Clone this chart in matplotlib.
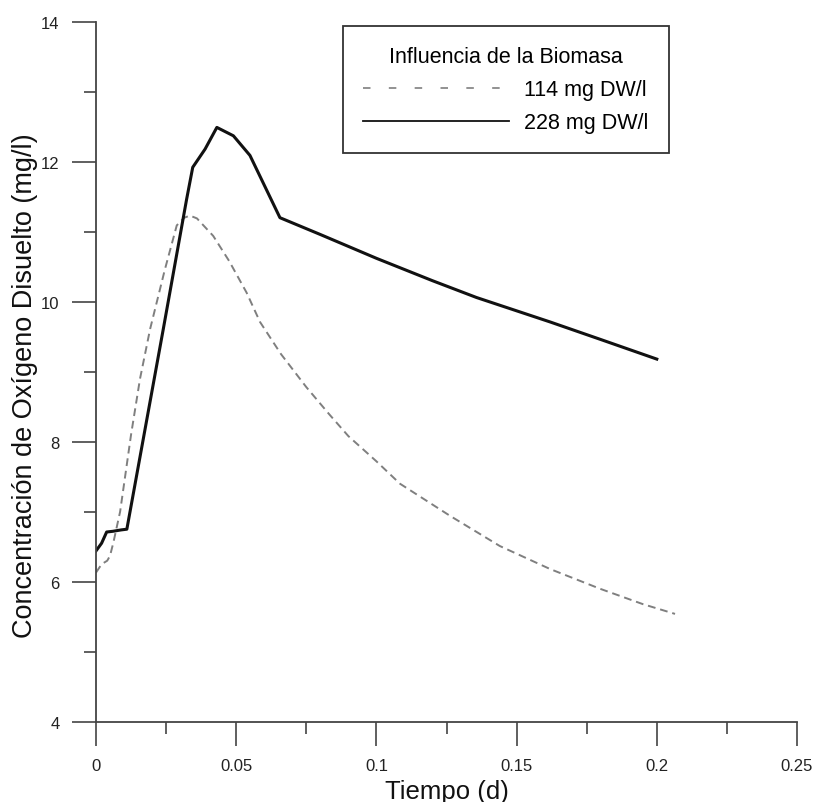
import matplotlib
matplotlib.use("Agg")
import matplotlib.pyplot as plt
from matplotlib.lines import Line2D
from matplotlib.ticker import FixedLocator

plt.rcParams['font.family'] = ['Liberation Sans', 'DejaVu Sans']

# Series
t_114 = [0.0, 0.002, 0.004, 0.005, 0.0062, 0.0086, 0.0125, 0.0157, 0.0193, 0.0245, 0.0288,
         0.0315, 0.0335, 0.036, 0.0418, 0.0475, 0.0537, 0.0585, 0.066, 0.075, 0.083, 0.09,
         0.1, 0.1084, 0.1263, 0.144, 0.162, 0.1797, 0.195, 0.2065]
v_114 = [6.13, 6.25, 6.30, 6.37, 6.56, 7.0, 8.1, 8.9, 9.61, 10.45, 11.09,
         11.2, 11.23, 11.19, 10.94, 10.58, 10.13, 9.71, 9.25, 8.78, 8.40, 8.08,
         7.72, 7.40, 6.94, 6.51, 6.18, 5.90, 5.68, 5.54]

t_228 = [0.0, 0.002, 0.0038, 0.006, 0.009, 0.011, 0.024, 0.0323, 0.0345, 0.0389, 0.0431,
         0.049, 0.0549, 0.0656, 0.0668, 0.08, 0.1, 0.12, 0.1357, 0.162, 0.18, 0.2]
v_228 = [6.44, 6.55, 6.71, 6.72, 6.74, 6.75, 9.61, 11.46, 11.92, 12.18, 12.49,
         12.37, 12.09, 11.2, 11.18, 10.96, 10.62, 10.30, 10.06, 9.71, 9.46, 9.18]

series_labels = ["114 mg DW/l", "228 mg DW/l"]
legend_title = "Influencia de la Biomasa"
x_major = [0, 0.05, 0.1, 0.15, 0.2, 0.25]
x_labels = ["0", "0.05", "0.1", "0.15", "0.2", "0.25"]
y_major = [4, 6, 8, 10, 12, 14]
y_labels = ["4", "6", "8", "10", "12", "14"]
x_minor = [0.025, 0.075, 0.125, 0.175, 0.225]
y_minor = [5, 7, 9, 11, 13]

fig = plt.figure(figsize=(8.14, 8.03), dpi=100)
ax = fig.add_axes([96/814, 1-722.7/803, (797-96)/814, (722.7-22.7)/803])

ax.plot(t_114, v_114, color='#7f7f7f', lw=1.4, dashes=(4, 2.5))
ax.plot(t_228, v_228, color='#111111', lw=2.2)

ax.set_xlim(0, 0.25)
ax.set_ylim(4, 14)
for s in ['top', 'right']:
    ax.spines[s].set_visible(False)
for s in ['left', 'bottom']:
    ax.spines[s].set_color('#444444')
    ax.spines[s].set_linewidth(1.3)

ax.xaxis.set_major_locator(FixedLocator(x_major))
ax.yaxis.set_major_locator(FixedLocator(y_major))
ax.xaxis.set_minor_locator(FixedLocator(x_minor))
ax.yaxis.set_minor_locator(FixedLocator(y_minor))
ax.set_xticklabels(x_labels)
ax.set_yticklabels(y_labels)
ax.tick_params(which='major', direction='out', length=17.3, width=1.2, color='#444444',
               labelsize=12, pad=9, labelcolor='#222222')
ax.tick_params(which='minor', direction='out', length=8.6, width=1.2, color='#444444')

ax.set_xlabel("Tiempo (d)", fontsize=18.5, labelpad=4, color='#111111')
ax.set_ylabel("Concentración de Oxígeno Disuelto (mg/l)", fontsize=19.5, color='#111111')
ax.yaxis.set_label_coords(-0.0825, 0.481)

handles = [Line2D([], [], color='#7f7f7f', lw=1.2, dashes=(4.5, 11)),
           Line2D([], [], color='#111111', lw=1.3)]
leg = ax.legend(handles, series_labels, title=legend_title, loc='upper left',
                bbox_to_anchor=(343/814, 1-27/803), bbox_transform=fig.transFigure,
                fontsize=15.5, title_fontsize=15.5, handlelength=6.8, handletextpad=0.7,
                borderpad=0.93, labelspacing=0.56, borderaxespad=0, fancybox=False,
                framealpha=1, edgecolor='#333333')
leg.get_frame().set_linewidth(1.3)

fig.savefig("out.png", dpi=100)
